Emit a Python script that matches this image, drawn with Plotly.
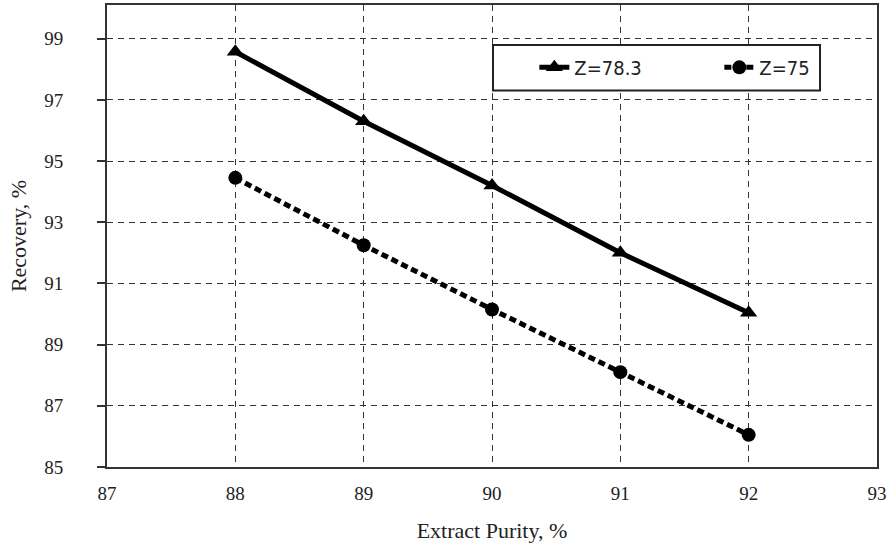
import plotly.graph_objects as go

purity = [88, 89, 90, 91, 92]
rec_z783 = [98.57, 96.3, 94.2, 92.0, 90.04]
rec_z75 = [94.45, 92.25, 90.15, 88.1, 86.05]
names = ["Z=78.3", "Z=75"]
x_ticks = [87, 88, 89, 90, 91, 92, 93]
y_ticks = [85, 87, 89, 91, 93, 95, 97, 99]

fig = go.Figure()
fig.add_trace(go.Scatter(
    x=purity, y=rec_z783, name=names[0], mode="lines+markers",
    line=dict(color="black", width=5),
    marker=dict(symbol="triangle-up", size=15, color="black"),
))
fig.add_trace(go.Scatter(
    x=purity, y=rec_z75, name=names[1], mode="lines+markers",
    line=dict(color="black", width=5, dash="7px,4px"),
    marker=dict(symbol="circle", size=14, color="black"),
))

tick_font = dict(family="Liberation Serif", size=19, color="#222")
title_font = dict(family="Liberation Serif", size=22, color="#222")
axis_common = dict(
    showline=True, linecolor="#333", linewidth=2, mirror=True,
    showgrid=True, gridcolor="#333", griddash="6px,5px", gridwidth=1,
    zeroline=False, tickcolor="#333", tickfont=tick_font, automargin=False,
)
fig.update_xaxes(range=[87, 93], tickvals=x_ticks, ticks="", ticklabelstandoff=8,
                 title=dict(text="Extract Purity, %", font=title_font, standoff=20),
                 **axis_common)
fig.update_yaxes(range=[85, 100.1], tickvals=y_ticks, ticks="outside", ticklen=8,
                 tickwidth=1.5, ticklabelstandoff=30,
                 title=dict(text="Recovery, %", font=title_font, standoff=12),
                 **axis_common)

fig.add_shape(type="rect", xref="paper", yref="paper",
              x0=0.5013, x1=0.9260, y0=0.8147, y1=0.9134,
              line=dict(color="#222", width=2), fillcolor="white", layer="above")

fig.update_layout(
    width=891, height=548,
    margin=dict(l=107, r=14, t=5, b=81, autoexpand=False),
    paper_bgcolor="white", plot_bgcolor="white",
    legend=dict(orientation="h", x=0.555, y=0.865, xanchor="left", yanchor="middle",
                bgcolor="rgba(0,0,0,0)", borderwidth=0,
                font=dict(family="DejaVu Sans Condensed, DejaVu Sans", size=20, color="#222"),
                entrywidth=140),
    showlegend=True,
)
fig.write_html("out.html", config={"displayModeBar": False},
               post_script="document.body.style.margin='0';document.body.style.padding='0';")
